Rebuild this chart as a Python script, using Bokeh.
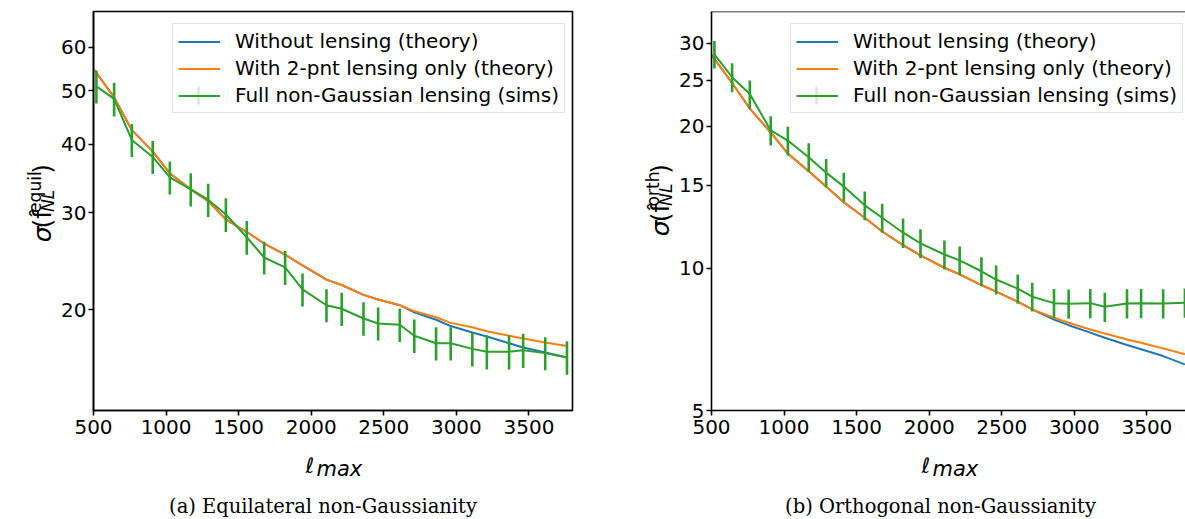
import math
from bokeh.plotting import figure
from bokeh.models import (ColumnDataSource, Legend, LegendItem, Label, Arrow, Span,
                          FixedTicker, BasicTickFormatter, Range1d)
from bokeh.layouts import row, column
from bokeh.embed import file_html
from bokeh.resources import INLINE

# ---------------- data ----------------
ell_theory = [500, 642, 764, 908, 1026, 1170, 1290, 1412, 1556, 1676, 1820, 1940, 2105,
              2210, 2360, 2461, 2610, 2710, 2860, 2961, 3110, 3210, 3363, 3460, 3612, 3762]
ell_sims = [520, 642, 764, 908, 1026, 1170, 1290, 1412, 1556, 1676, 1820, 1940, 2105,
            2210, 2360, 2461, 2610, 2710, 2860, 2961, 3110, 3210, 3363, 3460, 3612, 3762]

equil_no_lensing = [54.8, 48.6, 42.4, 38.8, 35.4, 33.1, 31.5, 29.2, 27.7, 26.4, 25.2, 24.1, 22.7,
                    22.2, 21.3, 20.9, 20.4, 19.8, 19.2, 18.7, 18.2, 17.9, 17.4, 17.1, 16.75, 16.4]
equil_2pt_lensing = [54.8, 48.6, 42.4, 38.8, 35.4, 33.1, 31.5, 29.2, 27.7, 26.4, 25.2, 24.1, 22.7,
                     22.2, 21.3, 20.9, 20.4, 19.9, 19.4, 18.95, 18.6, 18.3, 17.95, 17.75, 17.45, 17.2]
equil_sims = [50.9, 48.3, 40.7, 37.9, 34.8, 33.1, 31.7, 29.8, 27.1, 24.9, 23.9, 21.8, 20.4,
              20.1, 19.3, 18.9, 18.8, 17.96, 17.4, 17.4, 17.0, 16.8, 16.8, 16.9, 16.7, 16.4]
equil_sims_err = [3.5, 3.4, 2.8, 2.6, 2.4, 2.3, 2.2, 2.1, 1.9, 1.7, 1.7, 1.5, 1.4,
                  1.4, 1.35, 1.3, 1.3, 1.25, 1.2, 1.2, 1.2, 1.2, 1.2, 1.2, 1.15, 1.15]

orth_no_lensing = [28.3, 24.7, 21.8, 19.4, 17.5, 16.05, 14.9, 13.8, 12.8, 11.97, 11.2, 10.65, 10.03,
                   9.71, 9.22, 8.93, 8.50, 8.19, 7.79, 7.58, 7.31, 7.13, 6.88, 6.74, 6.52, 6.26]
orth_2pt_lensing = [28.3, 24.7, 21.8, 19.4, 17.5, 16.05, 14.9, 13.8, 12.8, 11.97, 11.2, 10.65, 10.03,
                    9.71, 9.22, 8.93, 8.50, 8.19, 7.86, 7.67, 7.42, 7.28, 7.07, 6.96, 6.77, 6.58]
orth_sims = [28.4, 25.4, 23.4, 19.6, 18.65, 17.2, 15.95, 14.9, 13.6, 12.8, 11.9, 11.3, 10.7,
             10.4, 9.86, 9.47, 9.06, 8.71, 8.44, 8.42, 8.44, 8.29, 8.43, 8.44, 8.43, 8.46]
orth_sims_err = [1.9, 1.8, 1.6, 1.4, 1.3, 1.2, 1.1, 1.05, 0.95, 0.9, 0.85, 0.8, 0.75,
                 0.72, 0.7, 0.67, 0.64, 0.61, 0.6, 0.6, 0.6, 0.59, 0.6, 0.6, 0.6, 0.6]

legend_labels = ["Without lensing (theory)",
                 "With 2-pnt lensing only (theory)",
                 "Full non-Gaussian lensing (sims)"]
x_ticks = [500, 1000, 1500, 2000, 2500, 3000, 3500]
equil_y_ticks = [20, 30, 40, 50, 60]
orth_y_ticks = [5, 10, 15, 20, 25, 30]
captions = ["(a) Equilateral non-Gaussianity", "(b) Orthogonal non-Gaussianity"]
shape_labels = ["equil", "orth"]

BLUE = "#1f77b4"
ORANGE = "#ff7f0e"
GREEN = "#2ca02c"
FONT = "DejaVu Sans"
TOP_H = 445      # height of the plot row
BOT_H = 519 - TOP_H
MID = 0.346      # baseline -> vertical middle of a DejaVu text box, in em

# DejaVu Sans advance widths (em) used to lay the label pieces one after another
ADV = {"σ": 0.615, "(": 0.390, ")": 0.390, "f": 0.352, "N": 0.748, "L": 0.557,
       "e": 0.615, "q": 0.635, "u": 0.634, "i": 0.278, "l": 0.278,
       "o": 0.612, "r": 0.411, "t": 0.392, "h": 0.634}


def text_width(s, size):
    return sum(ADV.get(ch, 0.0) for ch in s) * size


def text_canvas(width, height):
    c = figure(width=width, height=height, x_range=Range1d(0, width), y_range=Range1d(0, height),
               min_border=0, toolbar_location=None, output_backend="svg",
               x_axis_location=None, y_axis_location=None)
    c.grid.visible = False
    c.outline_line_color = None
    c.background_fill_color = "white"
    c.border_fill_color = "white"
    return c


def make_plot(width, border_right, x_end, y_lim, y_ticks, no_lens, two_pt, sims, err, full_outline):
    p = figure(width=width, height=TOP_H, x_range=Range1d(500, x_end),
               y_range=Range1d(y_lim[0], y_lim[1]), y_axis_type="log",
               output_backend="svg", toolbar_location=None,
               min_border_left=35, min_border_right=border_right,
               min_border_top=11, min_border_bottom=TOP_H - 410)
    p.grid.visible = False
    p.background_fill_color = "white"
    p.border_fill_color = "white"
    if full_outline:
        p.outline_line_color = "black"
        p.outline_line_width = 1.6
        p.outline_line_alpha = 1.0
    else:
        p.outline_line_color = None
        p.add_layout(Span(location=y_lim[1], dimension="width",
                          line_color="black", line_width=1.6))

    p.xaxis.ticker = FixedTicker(ticks=x_ticks, minor_ticks=[])
    p.yaxis.ticker = FixedTicker(ticks=y_ticks, minor_ticks=[])
    p.yaxis.formatter = BasicTickFormatter()
    for ax in (p.xaxis, p.yaxis):
        ax.axis_line_color = "black"
        ax.axis_line_width = 1.6
        ax.major_tick_line_color = "black"
        ax.major_tick_line_width = 1.6
        ax.major_tick_out = 5
        ax.major_tick_in = 0
        ax.minor_tick_out = 0
        ax.minor_tick_in = 0
        ax.major_label_text_font = FONT
        ax.major_label_text_font_size = "20px"
        ax.major_label_text_color = "black"
    p.xaxis.major_label_standoff = 4
    p.yaxis.major_label_standoff = 2

    src_t = ColumnDataSource(dict(x=ell_theory, nl=no_lens, tp=two_pt))
    lower = [v - e for v, e in zip(sims, err)]
    upper = [v + e for v, e in zip(sims, err)]
    src_s = ColumnDataSource(dict(x=ell_sims, y=sims, lo=lower, hi=upper))

    r_b = p.line("x", "nl", source=src_t, line_color=BLUE, line_width=2)
    r_o = p.line("x", "tp", source=src_t, line_color=ORANGE, line_width=2)
    r_g = p.line("x", "y", source=src_s, line_color=GREEN, line_width=2)
    p.segment(x0="x", y0="lo", x1="x", y1="hi", source=src_s,
              line_color=GREEN, line_width=2.6)

    legend = Legend(items=[LegendItem(label=legend_labels[0], renderers=[r_b]),
                           LegendItem(label=legend_labels[1], renderers=[r_o]),
                           LegendItem(label=legend_labels[2], renderers=[r_g])],
                    location=(79, 297), margin=0, padding=5, spacing=3,
                    glyph_width=42, glyph_height=21, label_height=21, label_standoff=15,
                    label_text_font=FONT, label_text_font_size="20px",
                    label_text_color="black",
                    border_line_color="#cccccc", border_line_width=1,
                    background_fill_color="white", background_fill_alpha=0.8)
    p.add_layout(legend)
    # vertical error-bar tick on the sims legend handle
    p.add_layout(Arrow(x_start=105, y_start=306, x_end=105, y_end=324,
                       start_units="screen", end_units="screen", end=None,
                       line_color=GREEN, line_width=2.6))
    return p


def ylabel_canvas(width, bx, center_screen_y, shape):
    """Rotated label sigma(f^shape_NL): bx = x of the main baseline,
    pieces are centred along the text direction (reading bottom to top)."""
    c = text_canvas(width, TOP_H)
    fm, fs = 25, 17.2
    lab = dict(angle=math.pi / 2, text_baseline="middle", text_align="center",
               text_color="black", text_font=FONT)
    w_sig = text_width("σ", fm)
    w_pf = text_width("(f", fm)
    w_sub = text_width("NL", fs)
    w_sup = text_width(shape, fs)
    w_cp = text_width(")", fm)
    total = w_sig + w_pf + w_sup + w_cp
    start = TOP_H - center_screen_y - total / 2          # data y of the bottom end
    x_main = bx - MID * fm
    c.add_layout(Label(x=x_main, y=start + w_sig / 2, text="σ",
                       text_font_size=f"{fm}px", text_font_style="italic", **lab))
    c.add_layout(Label(x=x_main, y=start + w_sig + w_pf / 2, text="(f\u0302",
                       text_font_size=f"{fm}px", **lab))
    s2 = start + w_sig + w_pf
    c.add_layout(Label(x=bx + 2.5 - MID * fs, y=s2 + w_sub / 2, text="NL",
                       text_font_size=f"{fs}px", text_font_style="italic", **lab))
    c.add_layout(Label(x=bx - 11 - MID * fs, y=s2 + w_sup / 2, text=shape,
                       text_font_size=f"{fs}px", **lab))
    c.add_layout(Label(x=x_main, y=s2 + w_sup + w_cp / 2, text=")",
                       text_font_size=f"{fm}px", **lab))
    return c


def bottom_canvas(width, x_ell, caption_x, caption):
    c = text_canvas(width, BOT_H)
    xl = dict(text_baseline="middle", text_align="left", text_color="black", text_font=FONT)
    fl = 21
    c.add_layout(Label(x=x_ell, y=(519 - 473) + MID * fl, text="ℓ",
                       text_font_size=f"{fl}px", **xl))
    c.add_layout(Label(x=x_ell + 11, y=(519 - 476) + MID * fl, text="max",
                       text_font_size=f"{fl}px", text_font_style="italic", **xl))
    fc = 19.5
    c.add_layout(Label(x=caption_x, y=(519 - 513) + MID * fc, text=caption,
                       text_align="center", text_baseline="middle",
                       text_font="DejaVu Serif", text_font_size=f"{fc}px",
                       text_color="black"))
    return c


p1 = make_plot(542, 28, 3800, (13.14, 69.6), equil_y_ticks,
               equil_no_lensing, equil_2pt_lensing, equil_sims, equil_sims_err, True)
p2 = make_plot(509, 0, 3766, (5.0, 35.0), orth_y_ticks,
               orth_no_lensing, orth_2pt_lensing, orth_sims, orth_sims_err, False)

yl1 = ylabel_canvas(58, 51, 213.5, shape_labels[0])
yl2 = ylabel_canvas(76, 69, 210, shape_labels[1])
b1 = bottom_canvas(600, 305, 322.5, captions[0])
b2 = bottom_canvas(585, 321, 340, captions[1])

left = column(row(yl1, p1, spacing=0), b1, spacing=0)
right = column(row(yl2, p2, spacing=0), b2, spacing=0)
layout = row(left, right, spacing=0)
open("out.html", "w").write(file_html(layout, INLINE))
